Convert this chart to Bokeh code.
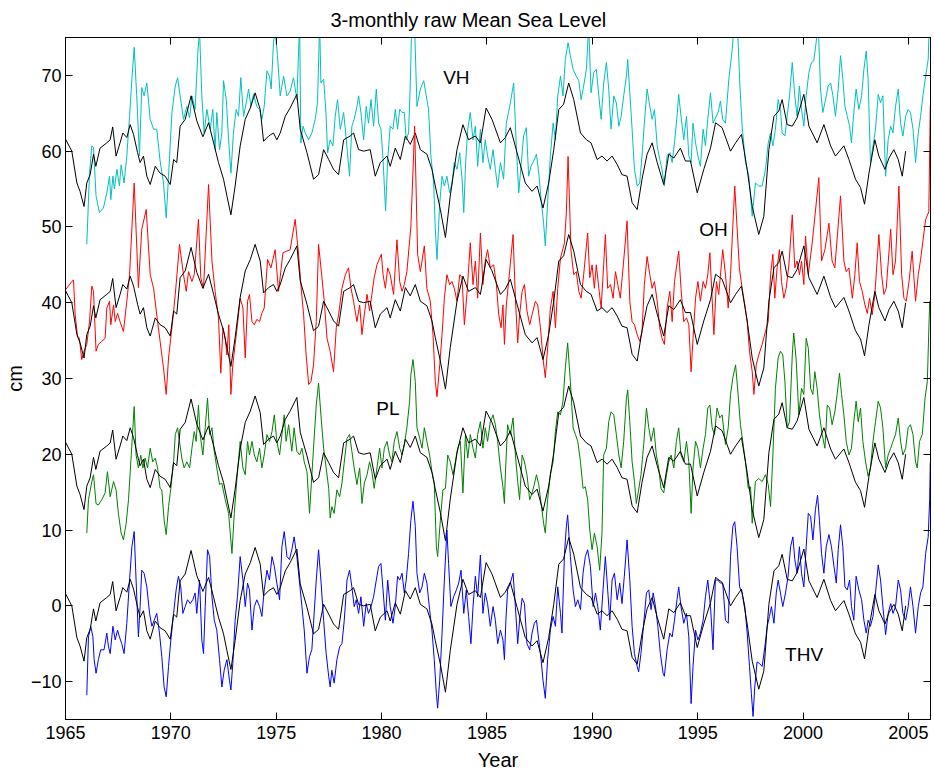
from bokeh.plotting import figure
from bokeh.models import Range1d, LinearAxis, FixedTicker, Label
from bokeh.embed import file_html
from bokeh.resources import INLINE

TITLE = "3-monthly raw Mean Sea Level"
X_LABEL = "Year"
Y_LABEL = "cm"
x_ticks = [1965, 1970, 1975, 1980, 1985, 1990, 1995, 2000, 2005]
y_ticks = [-10, 0, 10, 20, 30, 40, 50, 60, 70]
band_names = ["VH", "OH", "PL", "THV"]
band_offsets = [60, 40, 20, 0]

# reference (black) series, drawn in every band with that band's offset
ref = [(1965.00,1.6),(1965.30,0.0),(1965.54,-4.2),(1965.69,-5.3),(1965.88,-7.3),(1966.01,-4.2),(1966.17,-3.1),(1966.33,-0.4),(1966.44,-2.0),(1966.64,0.4),(1966.96,1.1),(1967.12,1.5),(1967.24,3.2),(1967.40,-0.65),(1967.59,1.1),(1967.72,2.4),(1967.91,1.8),(1968.07,3.5),(1968.23,2.2),(1968.42,-0.2),(1968.54,-1.5),(1968.70,-0.65),(1968.86,-3.3),(1969.02,-4.4),(1969.26,-2.0),(1969.49,-2.9),(1969.73,-3.3),(1969.97,-4.4),(1970.13,-1.1),(1970.28,-1.5),(1970.44,3.3),(1970.68,4.2),(1970.96,7.3),(1971.23,4.0),(1971.52,1.9),(1971.79,3.75),(1972.03,1.1),(1972.26,-1.5),(1972.50,-3.7),(1972.66,-5.9),(1972.85,-8.4),(1973.05,-4.6),(1973.29,0.7),(1973.53,4.2),(1973.77,5.7),(1974.00,7.7),(1974.24,5.5),(1974.40,1.3),(1974.64,2.0),(1974.87,2.4),(1975.03,1.5),(1975.19,2.4),(1975.43,4.6),(1975.66,5.7),(1975.98,7.5),(1976.14,2.9),(1976.46,-0.2),(1976.77,-3.7),(1977.01,-3.1),(1977.25,0.2),(1977.49,-1.1),(1977.72,-2.4),(1977.96,-3.1),(1978.20,1.5),(1978.51,2.0),(1978.67,2.4),(1978.91,0.2),(1979.15,0.0),(1979.46,0.2),(1979.70,-3.3),(1979.94,-1.5),(1980.26,-0.65),(1980.41,-2.0),(1980.65,0.4),(1980.89,-1.1),(1981.13,2.0),(1981.36,0.9),(1981.60,2.4),(1981.84,0.2),(1982.15,-0.4),(1982.39,-2.4),(1982.55,-4.6),(1982.79,-7.7),(1983.03,-11.4),(1983.26,-5.9),(1983.58,0.2),(1983.86,3.5),(1984.13,1.5),(1984.45,2.0),(1984.69,1.1),(1984.96,5.7),(1985.24,4.2),(1985.64,1.1),(1985.87,1.8),(1986.11,3.1),(1986.43,-0.2),(1986.82,-4.2),(1987.14,-5.3),(1987.38,-4.6),(1987.66,-7.5),(1987.93,-4.2),(1988.17,0.2),(1988.41,5.5),(1988.64,6.2),(1988.88,9.0),(1989.12,6.8),(1989.44,2.4),(1989.72,1.5),(1989.94,1.1),(1990.23,-1.1),(1990.46,-0.65),(1990.70,-1.3),(1990.94,-0.65),(1991.18,-1.75),(1991.41,-3.1),(1991.65,-3.3),(1991.89,-6.8),(1992.13,-7.7),(1992.36,-3.7),(1992.60,-0.4),(1992.84,1.1),(1993.08,-1.5),(1993.39,-4.4),(1993.63,-0.4),(1993.87,-0.9),(1994.18,0.4),(1994.42,-1.3),(1994.66,-1.3),(1994.98,-5.5),(1995.29,-2.4),(1995.61,0.4),(1995.85,3.75),(1996.16,3.1),(1996.56,0.0),(1996.80,1.1),(1997.08,2.2),(1997.35,-2.4),(1997.59,-7.3),(1997.90,-11.0),(1998.14,-8.6),(1998.38,0.2),(1998.62,4.6),(1998.85,5.3),(1999.01,6.8),(1999.25,3.5),(1999.49,3.3),(1999.72,4.4),(2000.04,7.5),(2000.28,3.3),(2000.67,1.1),(2000.99,3.5),(2001.31,0.7),(2001.54,-0.65),(2001.94,0.7),(2002.18,-1.1),(2002.49,-3.7),(2002.73,-4.8),(2002.92,-7.0),(2003.13,-2.9),(2003.41,1.5),(2003.60,-0.65),(2003.89,-2.4),(2004.08,-0.9),(2004.31,0.2),(2004.52,-1.1),(2004.71,-3.3),(2004.87,0.0)]

vh = [(1966.01,47.7),(1966.14,57.1),(1966.25,60.7),(1966.33,60.5),(1966.45,54.1),(1966.61,51.9),(1966.80,52.5),(1966.96,54.5),(1967.09,56.7),(1967.15,53.6),(1967.25,56.7),(1967.32,55.0),(1967.44,57.6),(1967.56,55.4),(1967.64,58.2),(1967.78,55.8),(1967.91,59.4),(1968.04,64.6),(1968.15,69.5),(1968.26,73.7),(1968.38,67.3),(1968.51,59.4),(1968.62,68.4),(1968.73,67.3),(1968.86,69.0),(1969.02,64.2),(1969.18,62.9),(1969.33,62.9),(1969.49,58.7),(1969.65,55.8),(1969.78,51.2),(1969.89,56.7),(1970.05,65.1),(1970.21,68.6),(1970.32,69.7),(1970.44,67.3),(1970.60,64.2),(1970.76,65.9),(1970.89,64.4),(1971.00,67.3),(1971.15,65.5),(1971.28,73.0),(1971.36,76.0),(1971.47,67.3),(1971.58,62.4),(1971.71,65.5),(1971.87,62.9),(1971.99,65.5),(1972.10,60.2),(1972.18,65.1),(1972.31,60.2),(1972.42,62.4),(1972.50,69.3),(1972.63,66.8),(1972.74,61.5),(1972.85,57.1),(1972.97,62.4),(1973.10,65.5),(1973.21,64.6),(1973.32,69.7),(1973.45,64.6),(1973.58,66.4),(1973.69,68.2),(1973.80,65.9),(1973.92,67.5),(1974.08,65.9),(1974.21,65.5),(1974.32,64.2),(1974.43,65.9),(1974.56,70.6),(1974.68,69.9),(1974.76,68.2),(1974.87,74.3),(1974.95,76.0),(1975.06,72.6),(1975.19,67.3),(1975.35,69.9),(1975.51,67.3),(1975.66,67.9),(1975.82,69.7),(1975.98,66.8),(1976.11,77.0),(1976.17,61.1),(1976.27,63.3),(1976.38,62.4),(1976.54,61.5),(1976.69,62.4),(1976.85,64.2),(1976.96,66.4),(1977.06,77.0),(1977.12,69.0),(1977.25,69.5),(1977.36,65.1),(1977.44,59.8),(1977.56,61.5),(1977.69,60.7),(1977.80,64.6),(1977.91,66.8),(1978.04,62.9),(1978.20,65.1),(1978.31,62.0),(1978.48,56.7),(1978.59,63.3),(1978.70,64.2),(1978.83,65.9),(1978.91,67.3),(1979.02,65.1),(1979.15,61.5),(1979.27,65.9),(1979.38,63.7),(1979.50,66.8),(1979.62,63.3),(1979.75,68.2),(1979.86,63.7),(1979.97,62.9),(1980.07,58.9),(1980.19,52.1),(1980.29,58.9),(1980.41,63.3),(1980.54,62.9),(1980.65,65.5),(1980.76,62.9),(1980.86,65.5),(1980.97,65.1),(1981.08,65.1),(1981.17,61.5),(1981.28,62.4),(1981.36,68.6),(1981.44,78.0),(1981.55,78.0),(1981.68,65.9),(1981.84,68.2),(1982.00,69.3),(1982.12,67.3),(1982.23,65.5),(1982.34,59.4),(1982.47,55.8),(1982.55,49.7),(1982.63,45.7),(1982.76,53.2),(1982.87,56.7),(1982.98,55.4),(1983.10,56.7),(1983.23,54.5),(1983.34,55.8),(1983.45,58.5),(1983.58,57.6),(1983.71,59.8),(1983.82,56.3),(1983.90,51.9),(1983.99,58.5),(1984.09,62.9),(1984.21,65.1),(1984.34,61.5),(1984.45,63.3),(1984.56,58.0),(1984.69,62.9),(1984.81,58.5),(1984.92,61.5),(1985.03,59.4),(1985.16,57.6),(1985.29,60.2),(1985.40,57.6),(1985.51,55.2),(1985.64,58.5),(1985.79,56.3),(1985.92,63.7),(1986.08,65.9),(1986.27,69.0),(1986.40,60.2),(1986.51,54.5),(1986.63,58.5),(1986.74,62.0),(1986.87,63.1),(1986.98,56.7),(1987.09,58.0),(1987.22,58.7),(1987.35,59.6),(1987.46,57.1),(1987.57,53.6),(1987.69,50.5),(1987.77,47.5),(1987.88,53.2),(1988.01,59.4),(1988.14,63.7),(1988.25,61.5),(1988.36,67.3),(1988.49,69.9),(1988.61,67.3),(1988.72,72.1),(1988.85,74.3),(1988.96,72.6),(1989.09,70.8),(1989.24,69.9),(1989.36,69.3),(1989.47,66.8),(1989.59,68.6),(1989.72,70.8),(1989.83,76.5),(1989.94,67.7),(1990.07,70.4),(1990.19,70.8),(1990.31,67.3),(1990.42,64.2),(1990.54,69.0),(1990.67,71.7),(1990.78,68.2),(1990.89,62.9),(1991.02,67.3),(1991.14,66.4),(1991.26,63.3),(1991.37,64.6),(1991.49,67.3),(1991.62,69.9),(1991.68,72.1),(1991.78,67.7),(1991.89,62.9),(1992.00,57.6),(1992.13,55.4),(1992.25,55.8),(1992.36,59.4),(1992.47,63.7),(1992.60,68.2),(1992.73,65.9),(1992.84,64.2),(1992.95,65.5),(1993.08,60.7),(1993.20,58.9),(1993.31,57.6),(1993.42,55.4),(1993.55,59.4),(1993.68,59.8),(1993.79,58.5),(1993.90,61.1),(1994.02,64.6),(1994.10,67.5),(1994.21,64.6),(1994.34,61.5),(1994.47,64.6),(1994.58,59.4),(1994.69,58.5),(1994.78,63.7),(1994.90,61.1),(1995.01,59.4),(1995.13,58.0),(1995.26,62.9),(1995.37,60.7),(1995.48,64.2),(1995.61,67.7),(1995.73,63.7),(1995.97,65.1),(1996.08,66.6),(1996.19,64.2),(1996.32,63.7),(1996.48,69.5),(1996.64,73.4),(1996.76,78.0),(1996.87,78.0),(1996.99,69.5),(1997.11,63.3),(1997.27,58.5),(1997.43,56.7),(1997.59,51.4),(1997.74,55.8),(1997.90,55.4),(1998.06,55.4),(1998.22,57.6),(1998.35,61.1),(1998.46,62.4),(1998.57,60.7),(1998.69,62.9),(1998.82,66.8),(1998.93,65.5),(1999.01,62.4),(1999.14,62.0),(1999.25,64.6),(1999.36,67.3),(1999.49,71.7),(1999.61,67.3),(1999.72,64.6),(1999.83,68.6),(1999.93,65.5),(2000.04,63.3),(2000.15,67.3),(2000.28,70.4),(2000.40,71.7),(2000.51,71.9),(2000.62,74.3),(2000.72,77.0),(2000.83,68.2),(2000.94,65.1),(2001.07,66.8),(2001.19,68.6),(2001.31,69.0),(2001.42,67.3),(2001.54,64.6),(2001.67,68.2),(2001.78,72.6),(2001.89,69.5),(2001.99,65.9),(2002.10,64.6),(2002.21,63.3),(2002.30,61.1),(2002.41,65.1),(2002.52,68.2),(2002.65,65.5),(2002.78,67.3),(2002.89,70.8),(2003.00,73.2),(2003.09,69.5),(2003.20,58.5),(2003.32,60.7),(2003.44,62.9),(2003.57,67.5),(2003.68,66.4),(2003.79,67.3),(2003.92,56.7),(2004.04,61.5),(2004.16,63.3),(2004.27,62.4),(2004.39,65.9),(2004.52,68.2),(2004.63,63.7),(2004.74,62.0),(2004.87,64.6),(2004.99,65.5),(2005.10,65.1),(2005.22,62.9),(2005.34,58.5),(2005.47,62.4),(2005.58,64.6),(2005.69,67.3),(2005.82,69.9),(2005.94,72.1),(2006.01,78.0)]

oh = [(1965.00,41.7),(1965.14,42.2),(1965.30,42.8),(1965.38,43.0),(1965.46,38.4),(1965.57,35.6),(1965.66,35.3),(1965.77,32.5),(1965.88,33.6),(1966.01,34.5),(1966.14,37.5),(1966.25,42.2),(1966.33,41.5),(1966.45,33.6),(1966.56,34.5),(1966.72,34.9),(1966.88,35.3),(1966.96,39.3),(1967.09,40.2),(1967.15,37.1),(1967.28,39.7),(1967.36,37.5),(1967.47,38.6),(1967.59,37.5),(1967.75,36.2),(1967.91,40.2),(1968.04,43.7),(1968.26,55.8),(1968.46,42.0),(1968.62,49.7),(1968.83,52.3),(1969.02,43.7),(1969.18,41.9),(1969.33,38.4),(1969.49,34.9),(1969.65,31.4),(1969.78,27.9),(1969.89,32.7),(1970.05,36.7),(1970.21,41.1),(1970.41,47.7),(1970.60,43.7),(1970.73,41.5),(1970.84,44.1),(1971.00,42.8),(1971.11,43.7),(1971.31,51.0),(1971.42,43.3),(1971.55,41.9),(1971.79,55.6),(1971.95,45.5),(1972.10,41.5),(1972.26,38.0),(1972.37,30.7),(1972.47,36.7),(1972.58,35.3),(1972.66,33.1),(1972.75,37.1),(1972.85,27.9),(1972.94,31.8),(1973.05,34.5),(1973.16,37.1),(1973.29,40.6),(1973.42,39.3),(1973.53,32.7),(1973.64,40.2),(1973.73,41.1),(1973.85,37.5),(1973.96,37.1),(1974.08,37.8),(1974.21,37.5),(1974.32,38.6),(1974.43,39.3),(1974.59,45.7),(1974.75,44.6),(1974.95,47.0),(1975.11,41.5),(1975.32,46.6),(1975.66,47.0),(1975.90,51.0),(1976.06,46.4),(1976.17,42.4),(1976.30,38.4),(1976.42,33.1),(1976.54,29.2),(1976.65,29.6),(1976.77,31.8),(1976.90,37.5),(1977.01,47.7),(1977.17,43.3),(1977.28,40.2),(1977.41,35.3),(1977.56,33.6),(1977.72,30.9),(1977.85,36.7),(1977.96,38.4),(1978.12,41.9),(1978.28,43.7),(1978.43,44.6),(1978.55,41.9),(1978.67,40.2),(1978.83,37.5),(1978.96,39.7),(1979.07,35.8),(1979.18,38.4),(1979.31,41.1),(1979.43,38.9),(1979.54,41.1),(1979.65,43.3),(1979.78,45.0),(1979.99,46.4),(1980.07,43.7),(1980.18,41.9),(1980.29,44.6),(1980.41,43.7),(1980.57,41.1),(1980.73,48.3),(1980.86,42.8),(1980.97,41.5),(1981.08,42.4),(1981.20,44.1),(1981.39,50.0),(1981.57,63.3),(1981.71,46.4),(1981.84,44.1),(1982.03,47.5),(1982.15,41.9),(1982.31,40.2),(1982.44,35.8),(1982.55,29.6),(1982.63,27.6),(1982.76,31.8),(1982.87,35.8),(1982.98,40.6),(1983.10,43.7),(1983.23,42.4),(1983.34,42.8),(1983.45,41.9),(1983.58,40.2),(1983.71,43.7),(1983.82,43.3),(1983.93,37.1),(1984.05,41.1),(1984.21,47.9),(1984.34,42.4),(1984.45,45.5),(1984.56,40.6),(1984.69,49.2),(1984.81,42.4),(1984.92,45.5),(1985.03,47.0),(1985.16,44.6),(1985.32,45.0),(1985.45,42.4),(1985.56,38.4),(1985.67,36.7),(1985.76,39.7),(1985.83,34.5),(1985.92,39.7),(1986.03,42.8),(1986.24,49.0),(1986.35,40.6),(1986.46,34.7),(1986.55,38.4),(1986.67,41.5),(1986.78,42.4),(1986.90,38.9),(1987.03,37.1),(1987.14,38.4),(1987.30,40.2),(1987.41,39.7),(1987.54,36.7),(1987.66,32.7),(1987.77,30.1),(1987.88,34.0),(1988.01,39.3),(1988.14,41.5),(1988.25,36.7),(1988.36,41.9),(1988.49,45.9),(1988.68,47.9),(1988.77,52.0),(1988.85,59.3),(1988.99,46.9),(1989.12,43.7),(1989.24,44.1),(1989.36,41.5),(1989.47,40.6),(1989.59,43.7),(1989.78,49.2),(1989.88,43.3),(1989.99,45.0),(1990.10,41.9),(1990.19,45.0),(1990.31,41.9),(1990.42,39.3),(1990.54,45.0),(1990.62,49.0),(1990.73,41.9),(1990.86,42.4),(1990.99,40.6),(1991.10,44.1),(1991.21,42.4),(1991.33,40.6),(1991.46,44.6),(1991.65,50.8),(1991.78,40.2),(1991.89,37.5),(1992.00,37.1),(1992.13,35.8),(1992.25,34.9),(1992.36,36.2),(1992.47,42.4),(1992.60,46.1),(1992.73,43.7),(1992.84,41.9),(1992.95,42.8),(1993.08,40.2),(1993.20,36.7),(1993.31,35.3),(1993.42,34.5),(1993.55,39.3),(1993.68,41.5),(1993.79,37.5),(1993.90,42.8),(1994.10,46.8),(1994.21,41.9),(1994.34,37.5),(1994.47,38.0),(1994.58,37.1),(1994.69,30.9),(1994.78,35.3),(1994.90,40.6),(1995.01,42.8),(1995.13,40.2),(1995.26,42.8),(1995.37,41.9),(1995.48,43.7),(1995.58,46.6),(1995.77,35.8),(1995.89,42.8),(1996.00,41.1),(1996.19,47.0),(1996.32,43.7),(1996.45,39.3),(1996.56,43.7),(1996.76,55.4),(1996.98,44.6),(1997.11,41.9),(1997.24,39.7),(1997.35,37.5),(1997.46,33.6),(1997.59,30.9),(1997.67,27.9),(1997.78,31.8),(1997.90,33.1),(1998.06,34.5),(1998.22,36.2),(1998.35,37.5),(1998.46,43.7),(1998.57,46.4),(1998.66,40.6),(1998.77,44.6),(1998.88,47.0),(1998.98,42.8),(1999.09,40.6),(1999.20,41.9),(1999.33,45.0),(1999.49,51.6),(1999.61,44.6),(1999.72,45.5),(1999.83,43.7),(1999.93,45.5),(2000.04,42.4),(2000.12,48.8),(2000.25,43.7),(2000.44,48.0),(2000.75,56.5),(2000.88,45.5),(2001.04,47.0),(2001.23,50.5),(2001.38,45.5),(2001.51,44.6),(2001.78,54.1),(2001.94,45.5),(2002.05,44.1),(2002.18,44.6),(2002.34,40.6),(2002.46,43.7),(2002.57,47.9),(2002.68,42.8),(2002.81,41.5),(2002.94,39.7),(2003.05,38.6),(2003.16,40.6),(2003.28,38.4),(2003.41,41.1),(2003.60,49.0),(2003.73,43.7),(2003.84,41.1),(2003.95,41.9),(2004.16,49.7),(2004.27,43.7),(2004.39,45.5),(2004.55,55.4),(2004.68,43.7),(2004.79,40.6),(2004.90,40.2),(2005.03,42.8),(2005.18,46.8),(2005.34,40.2),(2005.47,43.7),(2005.58,45.7),(2005.82,51.0),(2005.97,52.0),(2006.04,66.0)]

pl = [(1966.01,9.6),(1966.09,14.0),(1966.25,16.4),(1966.33,17.3),(1966.45,13.5),(1966.56,13.3),(1966.72,14.0),(1966.88,14.9),(1966.99,17.7),(1967.12,14.4),(1967.28,16.4),(1967.40,15.3),(1967.51,12.2),(1967.64,9.6),(1967.75,8.7),(1967.88,10.9),(1967.99,14.0),(1968.12,19.9),(1968.26,26.3),(1968.35,19.9),(1968.46,18.2),(1968.57,19.9),(1968.67,18.2),(1968.78,19.5),(1968.89,18.2),(1969.02,20.8),(1969.14,19.0),(1969.26,19.5),(1969.37,18.2),(1969.49,15.5),(1969.57,15.3),(1969.68,11.3),(1969.78,9.4),(1969.89,13.1),(1970.00,15.5),(1970.13,19.0),(1970.21,22.6),(1970.32,23.5),(1970.41,21.7),(1970.52,19.5),(1970.63,18.2),(1970.76,19.0),(1970.89,18.2),(1971.00,20.8),(1971.11,23.0),(1971.20,21.7),(1971.31,26.5),(1971.39,22.6),(1971.52,19.9),(1971.63,23.5),(1971.74,27.4),(1971.84,22.6),(1971.95,23.5),(1972.06,20.4),(1972.18,18.2),(1972.31,16.0),(1972.42,16.2),(1972.58,14.0),(1972.74,12.2),(1972.90,6.9),(1973.01,12.2),(1973.13,16.6),(1973.29,21.7),(1973.42,18.2),(1973.53,17.3),(1973.64,21.7),(1973.73,19.9),(1973.85,21.7),(1973.96,19.9),(1974.08,19.0),(1974.21,20.8),(1974.32,18.2),(1974.43,19.9),(1974.56,22.6),(1974.68,21.7),(1974.80,23.0),(1974.91,25.2),(1975.03,21.7),(1975.16,19.9),(1975.27,22.6),(1975.38,25.2),(1975.47,21.7),(1975.59,23.9),(1975.74,20.4),(1975.85,23.5),(1975.98,20.4),(1976.11,19.9),(1976.22,20.8),(1976.33,19.0),(1976.46,17.7),(1976.58,12.2),(1976.77,20.8),(1976.90,26.5),(1977.01,29.4),(1977.12,25.2),(1977.25,20.8),(1977.37,18.2),(1977.49,15.5),(1977.56,11.6),(1977.64,13.1),(1977.75,12.2),(1977.88,15.3),(1978.01,14.4),(1978.12,16.2),(1978.23,19.0),(1978.36,22.1),(1978.48,22.6),(1978.59,20.4),(1978.70,18.2),(1978.83,16.0),(1978.96,18.2),(1979.07,13.5),(1979.18,16.2),(1979.31,17.3),(1979.43,19.0),(1979.54,17.7),(1979.65,15.5),(1979.78,18.2),(1979.91,20.8),(1980.02,18.2),(1980.13,20.8),(1980.26,21.7),(1980.38,19.9),(1980.49,19.0),(1980.60,21.7),(1980.73,23.0),(1980.86,20.8),(1980.97,19.9),(1981.08,21.3),(1981.20,23.5),(1981.33,27.0),(1981.39,30.5),(1981.49,32.5),(1981.60,29.6),(1981.68,23.5),(1981.81,22.1),(1981.92,20.8),(1982.03,23.5),(1982.15,21.7),(1982.28,19.9),(1982.39,17.7),(1982.50,16.2),(1982.60,7.8),(1982.66,6.5),(1982.79,11.3),(1982.91,15.3),(1983.03,15.5),(1983.14,19.9),(1983.26,19.0),(1983.39,17.3),(1983.50,19.0),(1983.61,20.8),(1983.74,21.7),(1983.86,14.9),(1983.98,22.6),(1984.09,19.5),(1984.21,22.6),(1984.34,20.8),(1984.45,19.5),(1984.56,22.6),(1984.69,24.3),(1984.81,20.8),(1984.92,23.5),(1985.03,21.7),(1985.16,24.3),(1985.29,25.2),(1985.40,23.9),(1985.51,21.7),(1985.64,18.2),(1985.76,15.7),(1985.83,13.5),(1985.87,17.0),(1985.98,23.9),(1986.11,22.6),(1986.24,24.8),(1986.35,19.9),(1986.46,16.4),(1986.55,14.0),(1986.67,19.9),(1986.78,19.0),(1986.90,17.3),(1987.03,14.0),(1987.14,14.9),(1987.22,15.7),(1987.35,17.3),(1987.46,16.0),(1987.57,13.5),(1987.69,10.9),(1987.77,9.6),(1987.88,14.0),(1988.01,17.3),(1988.14,19.0),(1988.25,23.0),(1988.36,25.6),(1988.49,25.2),(1988.61,27.0),(1988.72,31.4),(1988.83,34.7),(1988.96,29.6),(1989.09,23.5),(1989.20,22.6),(1989.31,21.7),(1989.44,19.0),(1989.56,15.5),(1989.67,15.7),(1989.78,14.0),(1989.88,10.0),(1989.99,7.4),(1990.10,9.6),(1990.23,7.8),(1990.35,4.7),(1990.46,9.6),(1990.54,19.9),(1990.67,20.8),(1990.78,24.3),(1990.89,25.6),(1991.02,25.2),(1991.14,22.6),(1991.26,19.9),(1991.37,18.2),(1991.49,21.7),(1991.62,27.4),(1991.68,28.5),(1991.78,24.3),(1991.89,19.0),(1992.00,16.4),(1992.09,13.5),(1992.20,15.3),(1992.31,17.3),(1992.44,21.3),(1992.57,26.1),(1992.68,23.5),(1992.79,21.7),(1992.92,23.5),(1993.04,19.9),(1993.15,18.2),(1993.26,15.5),(1993.39,14.9),(1993.52,17.3),(1993.63,19.0),(1993.74,19.9),(1993.87,18.2),(1993.99,21.7),(1994.10,23.5),(1994.21,19.9),(1994.34,19.0),(1994.47,21.7),(1994.58,19.0),(1994.69,12.2),(1994.78,18.2),(1994.90,21.7),(1995.01,20.8),(1995.13,18.2),(1995.26,20.8),(1995.37,22.6),(1995.48,26.1),(1995.58,26.5),(1995.69,23.5),(1995.80,22.6),(1995.92,26.1),(1996.05,24.8),(1996.16,25.2),(1996.32,21.3),(1996.45,23.5),(1996.56,27.9),(1996.67,30.1),(1996.80,31.8),(1996.92,27.9),(1997.03,23.9),(1997.14,21.7),(1997.27,19.0),(1997.40,15.5),(1997.51,15.7),(1997.59,10.9),(1997.74,16.4),(1997.90,16.8),(1998.06,16.4),(1998.22,17.3),(1998.35,16.0),(1998.46,13.1),(1998.57,19.9),(1998.69,28.7),(1998.82,32.7),(1998.93,33.6),(1999.04,33.1),(1999.14,29.6),(1999.25,23.5),(1999.36,24.3),(1999.49,33.1),(1999.56,36.0),(1999.68,32.3),(1999.80,25.2),(1999.93,28.7),(2000.04,27.9),(2000.15,35.3),(2000.25,34.0),(2000.36,28.7),(2000.47,27.9),(2000.56,30.9),(2000.67,28.7),(2000.78,25.2),(2000.91,22.6),(2001.04,20.8),(2001.15,26.5),(2001.26,26.1),(2001.38,23.9),(2001.51,25.6),(2001.62,27.9),(2001.73,30.7),(2001.83,27.9),(2001.94,25.2),(2002.05,21.7),(2002.18,19.9),(2002.30,20.8),(2002.41,24.3),(2002.52,27.0),(2002.62,24.3),(2002.73,26.1),(2002.84,21.7),(2002.97,19.0),(2003.09,17.1),(2003.20,18.2),(2003.32,21.7),(2003.44,24.3),(2003.57,27.0),(2003.68,26.1),(2003.79,23.5),(2003.92,18.2),(2004.04,19.9),(2004.16,20.8),(2004.27,21.7),(2004.39,22.6),(2004.52,24.8),(2004.63,21.7),(2004.74,19.9),(2004.87,20.8),(2004.99,23.5),(2005.10,23.9),(2005.22,22.6),(2005.34,19.0),(2005.42,18.2),(2005.53,21.7),(2005.66,22.6),(2005.79,27.4),(2005.90,29.6),(2006.01,40.2)]

thv = [(1966.01,-11.8),(1966.09,-4.1),(1966.20,-2.7),(1966.30,-4.1),(1966.36,-7.1),(1966.45,-8.9),(1966.56,-7.1),(1966.67,-5.8),(1966.83,-5.8),(1966.96,-3.6),(1967.04,-5.4),(1967.12,-6.3),(1967.25,-2.7),(1967.36,-4.5),(1967.47,-3.2),(1967.56,-4.1),(1967.67,-5.0),(1967.78,-6.3),(1967.91,-2.3),(1968.04,3.4),(1968.15,7.8),(1968.26,9.8),(1968.35,3.4),(1968.46,-4.1),(1968.54,-0.1),(1968.62,4.7),(1968.73,4.3),(1968.86,2.5),(1968.99,-1.0),(1969.10,-2.7),(1969.21,-1.9),(1969.33,-1.0),(1969.46,-3.6),(1969.57,-6.7),(1969.68,-10.7),(1969.78,-12.0),(1969.89,-8.0),(1970.00,-4.5),(1970.13,-1.0),(1970.25,2.1),(1970.36,3.9),(1970.47,2.5),(1970.57,-1.0),(1970.68,-0.1),(1970.79,0.8),(1970.92,0.3),(1971.04,0.8),(1971.15,1.7),(1971.23,-1.0),(1971.36,3.4),(1971.47,-4.5),(1971.55,-6.3),(1971.63,-0.1),(1971.74,7.4),(1971.84,6.5),(1971.95,1.2),(1972.06,-1.9),(1972.18,-3.2),(1972.31,-7.1),(1972.42,-10.7),(1972.53,-8.5),(1972.66,-7.1),(1972.78,-9.8),(1972.85,-11.1),(1972.94,-7.6),(1973.05,-1.9),(1973.16,1.2),(1973.29,6.5),(1973.42,3.4),(1973.53,-0.1),(1973.64,3.0),(1973.73,2.1),(1973.85,-3.2),(1973.96,-0.1),(1974.08,0.8),(1974.21,-0.1),(1974.32,-1.4),(1974.43,2.1),(1974.56,4.7),(1974.68,3.4),(1974.80,6.5),(1974.91,5.2),(1975.03,3.0),(1975.16,0.8),(1975.27,7.8),(1975.38,9.8),(1975.51,6.5),(1975.63,6.1),(1975.74,7.4),(1975.85,9.1),(1975.98,6.5),(1976.11,3.0),(1976.22,-0.1),(1976.33,-3.2),(1976.46,-8.9),(1976.58,-6.7),(1976.69,-5.8),(1976.77,-2.3),(1976.90,3.4),(1977.01,7.4),(1977.12,3.4),(1977.25,-1.9),(1977.37,-6.3),(1977.49,-9.3),(1977.56,-10.7),(1977.64,-8.5),(1977.75,-10.2),(1977.88,-7.1),(1978.01,-5.4),(1978.12,-5.0),(1978.23,-1.9),(1978.36,3.4),(1978.48,4.7),(1978.59,2.5),(1978.70,-0.1),(1978.80,0.8),(1978.91,-1.0),(1979.02,1.2),(1979.15,-2.7),(1979.27,0.3),(1979.38,-1.0),(1979.50,-0.1),(1979.62,1.2),(1979.75,3.4),(1979.86,5.2),(1979.97,5.6),(1980.07,2.1),(1980.18,-1.9),(1980.29,3.4),(1980.41,-0.1),(1980.54,-2.3),(1980.65,-0.1),(1980.76,3.9),(1980.86,3.4),(1980.97,4.3),(1981.08,1.7),(1981.17,3.4),(1981.28,6.9),(1981.39,11.3),(1981.49,13.8),(1981.60,10.5),(1981.68,4.3),(1981.81,1.7),(1981.92,2.5),(1982.03,4.3),(1982.15,3.0),(1982.28,-0.5),(1982.39,-3.2),(1982.50,-7.1),(1982.60,-11.6),(1982.66,-13.5),(1982.76,-9.8),(1982.87,-3.6),(1982.98,3.4),(1983.10,10.0),(1983.18,5.6),(1983.29,-0.1),(1983.42,1.2),(1983.55,2.1),(1983.66,3.0),(1983.77,4.7),(1983.90,-1.0),(1984.02,2.1),(1984.13,-1.4),(1984.24,-5.0),(1984.34,-0.1),(1984.45,3.9),(1984.56,1.2),(1984.69,6.7),(1984.81,-1.0),(1984.92,1.7),(1985.03,0.3),(1985.16,-2.7),(1985.29,-0.1),(1985.40,-1.9),(1985.51,-5.0),(1985.64,-3.2),(1985.76,-4.5),(1985.83,-7.1),(1985.90,-1.9),(1985.98,2.1),(1986.11,3.0),(1986.24,4.3),(1986.35,-0.1),(1986.46,-5.0),(1986.55,-1.9),(1986.67,1.0),(1986.78,0.3),(1986.90,-5.0),(1987.03,-5.8),(1987.14,-3.6),(1987.25,-2.3),(1987.35,-1.9),(1987.46,-4.5),(1987.57,-7.1),(1987.66,-9.8),(1987.77,-12.2),(1987.88,-7.1),(1988.01,-3.2),(1988.14,-1.4),(1988.25,-2.7),(1988.36,2.5),(1988.49,-1.0),(1988.56,-3.6),(1988.68,6.9),(1988.77,10.5),(1988.83,12.0),(1988.96,6.5),(1989.09,2.1),(1989.20,-0.1),(1989.31,0.8),(1989.44,-0.5),(1989.56,4.3),(1989.67,6.5),(1989.78,7.4),(1989.91,5.2),(1990.04,-0.1),(1990.15,1.7),(1990.26,-0.1),(1990.38,-3.2),(1990.51,2.1),(1990.62,6.5),(1990.73,2.1),(1990.83,-1.9),(1990.94,3.4),(1991.05,4.3),(1991.18,0.8),(1991.30,3.0),(1991.41,0.3),(1991.52,3.9),(1991.65,8.7),(1991.78,3.4),(1991.89,-2.7),(1992.00,-6.3),(1992.13,-8.0),(1992.20,-8.7),(1992.31,-6.3),(1992.44,-2.3),(1992.57,1.7),(1992.68,2.1),(1992.79,-0.5),(1992.89,1.7),(1993.00,-0.1),(1993.11,-2.7),(1993.23,-6.3),(1993.36,-8.9),(1993.42,-9.3),(1993.55,-5.8),(1993.68,-3.6),(1993.79,-4.1),(1993.90,-1.9),(1994.02,0.8),(1994.10,2.5),(1994.21,-0.1),(1994.34,-2.3),(1994.47,-1.0),(1994.58,-4.1),(1994.69,-12.9),(1994.78,-8.0),(1994.90,-3.2),(1995.01,-4.5),(1995.13,-3.6),(1995.26,-1.9),(1995.37,1.2),(1995.48,3.4),(1995.61,-0.1),(1995.73,-5.8),(1995.84,3.4),(1995.96,3.4),(1996.08,3.0),(1996.19,3.0),(1996.32,-1.9),(1996.45,-2.3),(1996.56,6.5),(1996.67,10.5),(1996.76,11.1),(1996.87,7.8),(1996.99,2.5),(1997.11,1.7),(1997.24,-0.1),(1997.35,-3.6),(1997.46,-8.0),(1997.55,-11.6),(1997.63,-14.6),(1997.71,-10.7),(1997.82,-7.4),(1997.93,-7.6),(1998.06,-8.0),(1998.19,-5.4),(1998.30,-2.7),(1998.41,-1.4),(1998.50,-0.1),(1998.62,-2.3),(1998.73,1.7),(1998.82,3.4),(1998.93,1.7),(1999.04,-0.1),(1999.17,1.7),(1999.29,3.9),(1999.41,7.8),(1999.52,9.1),(1999.61,6.1),(1999.72,4.3),(1999.83,7.8),(1999.93,4.3),(2000.04,2.5),(2000.15,7.8),(2000.25,12.2),(2000.36,11.8),(2000.47,8.7),(2000.59,12.7),(2000.69,14.6),(2000.78,11.3),(2000.88,6.9),(2000.99,4.3),(2001.10,7.8),(2001.23,9.4),(2001.35,7.8),(2001.47,5.2),(2001.58,3.0),(2001.67,7.4),(2001.78,10.7),(2001.89,7.8),(2001.99,2.5),(2002.10,2.1),(2002.21,3.4),(2002.30,-0.1),(2002.41,-1.9),(2002.52,3.9),(2002.65,2.1),(2002.78,0.8),(2002.89,-1.9),(2003.00,-3.6),(2003.09,-1.9),(2003.20,-2.7),(2003.32,-1.4),(2003.44,1.7),(2003.57,5.4),(2003.68,3.4),(2003.79,-0.1),(2003.92,-3.8),(2004.04,-1.0),(2004.16,0.3),(2004.27,-1.0),(2004.39,-0.1),(2004.52,3.4),(2004.63,2.1),(2004.74,-1.0),(2004.87,-1.9),(2004.99,-0.1),(2005.10,2.5),(2005.22,-0.1),(2005.34,-3.6),(2005.47,-0.1),(2005.58,1.7),(2005.69,2.5),(2005.82,6.9),(2005.94,9.1),(2006.01,14.0),(2006.04,19.0)]

series = [vh, oh, pl, thv]
colors = ["#00BFBF", "#FF0000", "#008000", "#0000FF"]

FONT = "Liberation Sans"

p = figure(width=934, height=775, output_backend="svg", toolbar_location=None,
           x_range=Range1d(1965, 2006.05), y_range=Range1d(-15, 75),
           min_border_left=65, min_border_right=4, min_border_top=37,
           min_border_bottom=56, tools="")
p.background_fill_color = "white"
p.border_fill_color = "white"
p.outline_line_color = "black"
p.outline_line_width = 1
p.grid.visible = False

p.title.text = TITLE
p.title.align = "left"
p.title.offset = 265
p.title.text_font = FONT
p.title.text_font_size = "20px"
p.title.text_font_style = "normal"
p.title.text_color = "black"
p.title.standoff = 13

for ax, ticks, lab in ((p.xaxis[0], x_ticks, X_LABEL), (p.yaxis[0], y_ticks, Y_LABEL)):
    ax.ticker = FixedTicker(ticks=ticks)
    ax.major_tick_in = 7
    ax.major_tick_out = 0
    ax.minor_tick_line_color = None
    ax.axis_line_color = "black"
    ax.major_tick_line_color = "black"
    ax.major_label_text_font = FONT
    ax.major_label_text_font_size = "18px"
    ax.major_label_text_color = "black"
    ax.axis_label = lab
    ax.axis_label_text_font = FONT
    ax.axis_label_text_font_size = "20px"
    ax.axis_label_text_font_style = "normal"
    ax.axis_label_text_color = "black"
p.xaxis[0].major_label_standoff = 6
p.xaxis[0].axis_label_standoff = 7
p.yaxis[0].major_label_standoff = 4
p.yaxis[0].axis_label_standoff = 2

# tick marks only (no labels) on the top and right edges of the box
for loc, ticks in (("right", y_ticks), ("above", x_ticks)):
    extra = LinearAxis(ticker=FixedTicker(ticks=ticks), major_tick_in=7, major_tick_out=0,
                       minor_tick_line_color=None, major_label_text_font_size="0px",
                       major_label_text_color=None,
                       major_label_standoff=0, axis_label_standoff=0, axis_line_color="black",
                       major_tick_line_color="black")
    p.add_layout(extra, loc)

ref_x = [t for t, _ in ref]
for data, color, off in zip(series, colors, band_offsets):
    p.line([t for t, _ in data], [v for _, v in data], line_color=color, line_width=1)
    p.line(ref_x, [v + off for _, v in ref], line_color="black", line_width=1)

label_pos = {"VH": (1983.55, 69.7), "OH": (1995.75, 49.7), "PL": (1980.3, 26.1), "THV": (2000.05, -6.4)}
for name in band_names:
    lx, ly = label_pos[name]
    p.add_layout(Label(x=lx, y=ly, text=name, text_font=FONT, text_font_size="19px",
                       text_align="center", text_baseline="middle", text_color="black"))

open("out.html", "w").write(file_html(p, INLINE))
